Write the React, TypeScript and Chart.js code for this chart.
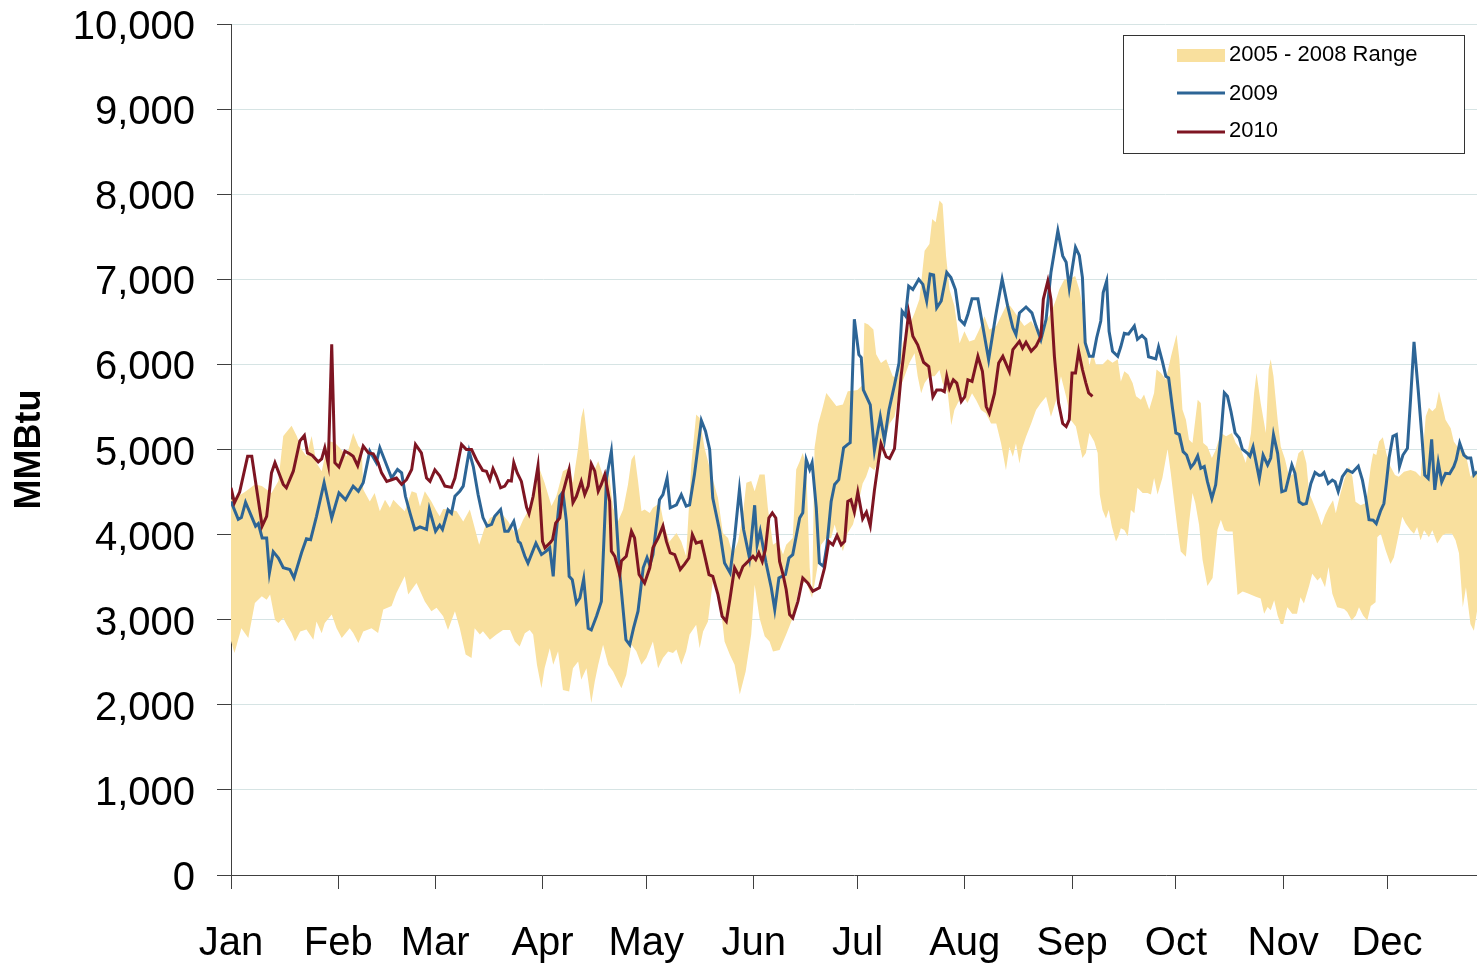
import React, { useEffect, useRef } from "react";
import { Chart, registerables } from "chart.js";

Chart.register(...registerables);

const FONT = "'Liberation Sans', Arial, sans-serif";

const monthLabels = ["Jan", "Feb", "Mar", "Apr", "May", "Jun", "Jul", "Aug", "Sep", "Oct", "Nov", "Dec"];
const monthStartDays = [0, 31, 59, 90, 120, 151, 181, 212, 243, 273, 304, 334];
const legendLabels = ["2005 - 2008 Range", "2009", "2010"];

// 2005 - 2008 range, upper edge
const rangeUpperDays = [
  0, 2, 4, 6.9, 8.9, 10.3, 11.7, 13.7, 15.1, 17.5, 19, 20.4, 21.8, 23.3, 24.7, 26.2, 28.1, 30, 31.4, 33.4,
  35.3, 36.8, 37.8, 38.2, 40.1, 41.5, 43, 44.5, 45.9, 46.9, 48.3, 50.2, 52.2, 53.6, 54.6, 56, 57.9, 59.4, 60.3, 61.3,
  63.2, 65.2, 67.1, 69, 70.4, 71.7, 73.3, 74.8, 76.7, 78.1, 80.1, 82, 83.4, 84.4, 85.8, 87.3, 88.7, 90.6, 92.6, 94,
  95.9, 97.7, 98.8, 100.3, 101.2, 101.9, 102.7, 103.6, 105.1, 106.1, 107.5, 109, 110.4, 111.8, 113.3, 114.7, 115.7, 116.6, 117.6, 118.6,
  119.5, 121, 121.9, 123.9, 125.3, 126.7, 128.7, 130.1, 131.5, 133, 134.4, 135.4, 136.8, 138.8, 140.7, 142.1, 143.6, 145, 146.5, 147.9,
  148.9, 150.3, 151.3, 152.7, 154.2, 155.1, 156.6, 158, 159.5, 160.4, 162.3, 163.3, 164.3, 165.2, 166.2, 167.2, 167.9, 168.6, 169.6, 170.8,
  172, 173.4, 174.9, 176.8, 178.2, 179.7, 181, 182.5, 183, 184.1, 185.6, 186.4, 187.8, 189.3, 191.2, 192.6, 194.1, 195.5, 197.5, 198.9,
  200.4, 201.8, 202.6, 203.6, 204.7, 205.6, 206.6, 207.6, 209, 210.5, 211.9, 213.3, 214.8, 216.2, 217.7, 219.1, 221.1, 223, 224.4, 225.9,
  227.8, 229.2, 231.2, 232.6, 234, 235.5, 236.9, 238.4, 239.3, 240.8, 242.2, 243.9, 245.1, 246, 247, 248, 248.9, 249.9, 251.8, 253.3,
  254.7, 256.2, 257.1, 258.1, 259.3, 260.5, 261.5, 262.9, 263.8, 265.3, 266.7, 267.4, 268.7, 270.1, 271.6, 273.2, 274, 274.9, 275.9, 276.8,
  277.8, 279.3, 280.2, 280.9, 282.1, 283.4, 284.5, 286, 287.5, 289.2, 290.3, 291.8, 293.2, 294.7, 295.6, 296.3, 297.5, 299, 299.8, 300.4,
  301.2, 302.4, 303.3, 304.5, 305.7, 307.1, 308.4, 309.7, 310.7, 311.5, 312.4, 313.9, 315.1, 316.1, 317.2, 318.4, 319.2, 320.3, 321.6, 323,
  324, 324.9, 326.4, 328, 329.3, 330, 330.9, 331.7, 332.8, 333.8, 335, 336.3, 337.4, 338.9, 340.8, 342.3, 343.7, 345.2, 346.1, 347.1,
  348.1, 349, 350, 350.9, 352.4, 353.3, 354.3, 355.3, 356.7, 358.1, 360,
];
const rangeUpperValues = [
  4410, 4450, 4500, 4590, 4570, 4530, 4490, 4630, 5160, 5280, 5160, 5000, 4920, 5160, 4840, 4745, 5100, 5080, 5020, 4920,
  5195, 5040, 5000, 4530, 4390, 4490, 4275, 4410, 4315, 4410, 4350, 4275, 4510, 4490, 4330, 4510, 4390, 4275, 4215, 4300,
  4295, 4275, 4155, 4295, 4080, 3880, 4080, 4195, 4235, 4255, 4155, 4020, 4080, 4175, 4275, 4490, 4825, 4610, 4335, 4450,
  4745, 4785, 4610, 5020, 5375, 5490, 5215, 4880, 4765, 4865, 4690, 4785, 4315, 4155, 4295, 4590, 4880, 4940, 4630, 4275,
  4295, 4255, 4315, 4370, 4080, 3920, 4020, 3920, 3745, 4825, 5410, 5370, 5020, 4705, 4430, 4020, 3960, 3765, 3920, 4235,
  4610, 4630, 4510, 4705, 4705, 4315, 3880, 3920, 3765, 3880, 3960, 4765, 4860, 4960, 4805, 3610, 3255, 5020, 5295, 5470,
  5665, 5590, 5510, 5530, 5685, 5690, 5700, 5760, 6490, 6470, 6410, 6120, 6015, 6060, 5860, 5840, 6250, 6410, 6605, 6765,
  7335, 7415, 7710, 7670, 7925, 7885, 7275, 6880, 6690, 6250, 6390, 6270, 6290, 6410, 6565, 6410, 6450, 6610, 6725, 6645,
  6530, 6450, 6510, 6410, 6410, 6510, 6605, 6765, 6880, 7000, 7000, 7040, 6880, 6685, 6330, 5980, 6140, 6000, 6000, 6060,
  6020, 6060, 5800, 5920, 5880, 5780, 5625, 5585, 5645, 5470, 5665, 5940, 5900, 5820, 6095, 6350, 6060, 5470, 5350, 5115,
  5075, 5585, 5545, 5075, 5035, 4900, 4995, 5195, 5155, 5195, 5075, 5000, 4840, 5195, 5665, 5900, 5545, 5195, 5940, 6060,
  5860, 5350, 5035, 4890, 4680, 4720, 4955, 5000, 4840, 4485, 4405, 4250, 4110, 4230, 4325, 4405, 4250, 4445, 4640, 4800,
  4680, 4385, 4345, 4375, 4800, 4955, 4935, 5095, 5145, 4955, 4800, 4700, 4680, 4740, 4760, 4740, 4680, 5390, 5490, 5450,
  5490, 5685, 5510, 5350, 5250, 5095, 5035, 4995, 4955, 4680, 4760,
];

// 2005 - 2008 range, lower edge
const rangeLowerDays = [
  0, 1, 3, 5, 6.9, 8.9, 10.3, 11.3, 12.7, 13.7, 15.1, 16.1, 17.5, 18.5, 20, 21.8, 23.8, 24.7, 26.2, 27.1,
  29.1, 30.5, 32, 34.3, 35.3, 36.8, 38.2, 40.6, 42.5, 44, 46.4, 47.8, 50.2, 51.2, 53.6, 56, 57.9, 59.4, 61.3, 62.7,
  64.7, 66.1, 67.8, 69.5, 70.4, 71.9, 72.8, 74.8, 76.7, 78.6, 80.6, 82, 83.4, 84.9, 86.3, 87.3, 88.4, 89.7, 90.6, 92.1,
  93.1, 94.5, 95.9, 97.7, 98.8, 100.3, 101.2, 102.7, 104.1, 105.1, 106.1, 107.5, 109, 110.4, 111.8, 112.8, 114.2, 115.7, 117.1, 118.6,
  120, 121.9, 123.4, 124.8, 126.3, 127.7, 128.7, 130.1, 131.5, 132.5, 134.4, 135.4, 136.4, 137.8, 139.2, 141.2, 142.6, 144.1, 145.5, 147,
  148.7, 150.3, 151.3, 152.7, 154.2, 155.6, 156.6, 158.5, 160.4, 162.3, 164.3, 166.2, 167.9, 168.9, 170.5, 172, 173.4, 174.4, 175.8, 176.8,
  178.2, 179.7, 181, 182.5, 183.5, 184.5, 185.9, 187.4, 188.8, 190.3, 191.7, 193.1, 194.6, 196, 197.5, 198.4, 199.4, 200.4, 201.8, 203.3,
  204.7, 205.6, 207.1, 208.1, 209, 210, 211.4, 212.8, 214.1, 215.3, 216.7, 218.1, 219.6, 221.1, 222.5, 223.9, 224.9, 225.9, 226.8, 227.8,
  228.7, 229.7, 231.2, 232.6, 234, 235.5, 236.9, 238.4, 239.8, 241.3, 242.7, 244.1, 246, 247, 248, 249.4, 250.4, 251, 251.8, 252.8,
  253.6, 254.5, 255.7, 256.4, 257.1, 258.1, 259.1, 260, 261, 261.9, 263.4, 264.8, 265.8, 266.7, 267.7, 269.1, 270.6, 271.5, 272.8, 273.5,
  274.4, 275.9, 276.8, 277.8, 278.6, 279.7, 280.7, 282.1, 283.6, 285, 286, 287, 287.9, 289.4, 290.8, 292.3, 293.7, 294.9, 296.1, 297.5,
  298.5, 299.5, 300.4, 301.4, 302.4, 303.3, 304, 305.2, 306.6, 308, 309, 310, 311.5, 312.4, 313.9, 314.8, 316.1, 317.1, 318.2, 319.6,
  321.6, 322.5, 323.8, 325, 325.9, 327.1, 328.3, 329.3, 330.7, 331.2, 332.2, 333.6, 335, 336, 337.4, 338.4, 339.4, 340.8, 341.8, 342.7,
  343.7, 344.7, 346.1, 347.1, 348.5, 350, 350.9, 352.8, 353.8, 354.8, 355.9, 356.8, 358.1, 359.1, 360,
];
const rangeLowerValues = [
  2750, 2610, 2900, 2785, 3195, 3275, 3235, 3295, 3000, 2960, 3020, 2940, 2845, 2745, 2860, 2885, 2765, 2980, 2840, 2960,
  3060, 2900, 2785, 2900, 2845, 2725, 2860, 2900, 2845, 3120, 3160, 3315, 3510, 3295, 3430, 3215, 3100, 3140, 3040, 2880,
  3100, 2900, 2590, 2550, 2900, 2825, 2865, 2765, 2825, 2880, 2880, 2745, 2685, 2840, 2880, 2825, 2470, 2195, 2430, 2665,
  2470, 2630, 2175, 2155, 2430, 2510, 2295, 2430, 2020, 2275, 2470, 2705, 2470, 2390, 2275, 2195, 2350, 2705, 2630, 2470,
  2550, 2745, 2430, 2550, 2625, 2610, 2650, 2470, 2630, 2825, 2940, 2665, 2860, 2980, 3450, 3255, 2745, 2590, 2470, 2120,
  2390, 2825, 3410, 3020, 2805, 2745, 2625, 2645, 2825, 3020, 3410, 3450, 3255, 3490, 3880, 3960, 3960, 4120, 3920, 3805,
  4020, 4120, 4320, 4600, 4680, 4800, 4755, 4915, 5070, 5305, 5385, 5700, 5860, 6015, 6130, 5860, 5660, 5780, 5860, 5860,
  5935, 5780, 5660, 5285, 5465, 5545, 5640, 5545, 5660, 5580, 5465, 5425, 5305, 5305, 5070, 4755, 5030, 4915, 5070, 4835,
  5030, 5150, 5305, 5465, 5545, 5620, 5385, 5580, 5860, 5620, 5345, 5270, 4900, 4960, 5195, 5095, 4960, 4470, 4290, 4190,
  4290, 4095, 3920, 3980, 4075, 4055, 3980, 4290, 4250, 4550, 4490, 4490, 4470, 4665, 4470, 4665, 5005, 4730, 4290, 4055,
  3800, 3740, 4135, 4490, 4370, 4115, 3705, 3395, 3490, 4055, 4175, 4055, 4035, 4035, 3290, 3330, 3310, 3290, 3270, 3250,
  3070, 3150, 3110, 3230, 3050, 2950, 2950, 3145, 3070, 3070, 3265, 3190, 3400, 3540, 3460, 3500, 3380, 3620, 3305, 3145,
  3125, 3090, 2990, 3050, 3145, 3050, 2990, 3160, 3205, 3970, 4010, 3815, 3655, 3735, 4010, 4210, 4130, 4050, 4010, 4090,
  3935, 4050, 3970, 4050, 3895, 3990, 4010, 4010, 3935, 3780, 3145, 3380, 2950, 2870, 3100,
];

// 2009 daily values
const days2009 = [
  0, 2.1, 3, 4.2, 5.5, 7.1, 7.9, 9, 10.3, 11.1, 12.2, 13.7, 15.1, 17, 18.2, 20.4, 21.8, 23, 24.7, 26.9,
  29.1, 31.2, 33.1, 35.3, 36.8, 38.2, 40.1, 42, 43, 44.5, 46.4, 48.1, 49.3, 50.4, 51.7, 53.1, 54.6, 56.5, 57.3, 59.1,
  60.3, 61.1, 62.7, 63.7, 64.7, 66.1, 67.1, 68.8, 70, 71.4, 72.8, 74, 75.3, 76.2, 77.9, 79.1, 80.1, 81.7, 83, 83.6,
  84.9, 85.8, 88.1, 89.7, 90.9, 92.1, 93.1, 93.8, 95, 95.9, 96.9, 97.7, 98.6, 99.8, 100.8, 101.9, 103.2, 104.1, 105.6, 107,
  108.5, 109.9, 110.9, 112.3, 114.1, 115.2, 116.3, 117.6, 119.1, 120.2, 121, 121.9, 123.8, 124.8, 126, 126.9, 128.7, 130.1, 131.5, 132.5,
  133.9, 135.9, 137.1, 138.3, 139.2, 141.2, 142.6, 144.2, 145.5, 146.9, 148.1, 149.8, 151.3, 152, 152.9, 154.6, 156.1, 157.1, 158.3, 160.2,
  161.2, 162.3, 164.3, 165.2, 166.2, 167.2, 167.9, 169.1, 170, 171.2, 172.2, 173.4, 174.4, 175.6, 177, 178.2, 178.9, 180.1, 181.4, 182.1,
  182.7, 184.7, 185.9, 187.6, 188.8, 190.1, 191.7, 193, 193.9, 194.9, 195.8, 197, 198.7, 199.9, 201, 202, 203, 203.9, 205.2, 206.8,
  208, 209.3, 210.5, 211.9, 212.9, 214.1, 215.8, 217.2, 218.9, 220.9, 222.8, 224.4, 225.9, 226.8, 227.8, 229.7, 231.4, 232.6, 234, 235.5,
  236.9, 238.9, 240.3, 241.3, 242.2, 244, 245.1, 246, 246.8, 248, 249.1, 250.1, 251.3, 252, 253, 253.7, 254.7, 256.2, 257.1, 258.1,
  259.3, 261, 261.9, 263.2, 264.3, 265.1, 267.2, 268, 269.1, 270.1, 270.9, 272, 273, 274, 275.1, 276.1, 277.3, 278.3, 279.3, 280.2,
  281.2, 282.1, 283.4, 284.5, 286, 287, 287.9, 288.9, 290.1, 291.3, 292.2, 293.7, 294.4, 295.3, 297.1, 298.2, 299.5, 300.4, 301.2, 302.4,
  303.6, 304.7, 306.5, 307.4, 308.6, 309.7, 310.7, 312, 313.2, 314.4, 315.1, 315.8, 317, 318.2, 319, 319.9, 321.1, 322.5, 324, 325.7,
  326.9, 327.8, 328.8, 330, 330.9, 332.2, 333.1, 333.8, 334.6, 335.7, 336.7, 337.6, 338.6, 339.9, 340.8, 341.8, 343, 344, 344.9, 345.9,
  346.9, 347.8, 348.8, 349.8, 350.9, 352.1, 353.3, 354, 355, 356.2, 357.2, 358.2, 359.1, 360,
];
const values2009 = [
  4390, 4180, 4200, 4380, 4255, 4100, 4130, 3960, 3960, 3550, 3800, 3725, 3610, 3590, 3490, 3790, 3950, 3940, 4215, 4610,
  4195, 4490, 4410, 4570, 4510, 4610, 4980, 4845, 5020, 4865, 4665, 4765, 4725, 4450, 4255, 4060, 4090, 4060, 4300, 4040,
  4110, 4060, 4290, 4250, 4450, 4510, 4570, 4980, 4800, 4470, 4200, 4100, 4120, 4215, 4295, 4040, 4040, 4155, 3920, 3900,
  3745, 3665, 3900, 3765, 3800, 3845, 3510, 3960, 4450, 4500, 4155, 3510, 3470, 3195, 3255, 3480, 2900, 2880, 3040, 3215,
  4665, 4980, 4450, 3550, 2765, 2705, 2900, 3100, 3610, 3730, 3640, 3765, 4410, 4470, 4665, 4315, 4350, 4470, 4335, 4350,
  4705, 5340, 5215, 5000, 4430, 4040, 3665, 3550, 3960, 4530, 4060, 3725, 4345, 3880, 4040, 3665, 3375, 3120, 3490, 3530,
  3725, 3765, 4195, 4255, 4880, 4765, 4845, 4315, 3665, 3625, 3880, 4390, 4590, 4645, 5020, 5060, 5080, 6530, 6115, 6080,
  5700, 5525, 4990, 5385, 5110, 5465, 5760, 6015, 6625, 6570, 6920, 6880, 7000, 6940, 6745, 7060, 7050, 6665, 6745, 7080,
  7020, 6880, 6530, 6470, 6590, 6770, 6770, 6450, 6055, 6565, 7000, 6685, 6430, 6350, 6605, 6675, 6605, 6450, 6290, 6530,
  7080, 7570, 7275, 7200, 6900, 7375, 7280, 7020, 6255, 6095, 6095, 6310, 6510, 6845, 6980, 6390, 6155, 6095, 6210, 6365,
  6355, 6450, 6295, 6340, 6295, 6090, 6065, 6205, 6035, 5860, 5840, 5490, 5195, 5175, 4975, 4935, 4790, 4840, 4925, 4780,
  4800, 4625, 4425, 4585, 5155, 5665, 5625, 5450, 5195, 5135, 5005, 4955, 4920, 5030, 4660, 4935, 4820, 4900, 5175, 4955,
  4505, 4520, 4820, 4720, 4385, 4355, 4365, 4600, 4730, 4695, 4700, 4730, 4600, 4640, 4620, 4505, 4680, 4760, 4730, 4805,
  4640, 4445, 4175, 4170, 4130, 4285, 4365, 4600, 4900, 5155, 5175, 4800, 4935, 5015, 5585, 6265, 5705, 5195, 4700, 4660,
  5120, 4525, 4845, 4620, 4720, 4715, 4800, 4880, 5075, 4935, 4900, 4900, 4700, 4740,
];

// 2010 daily values (through early September)
const days2010 = [
  0, 1, 2.5, 4.8, 6, 9, 10.3, 11.7, 12.7, 15.1, 16, 18, 19.9, 21.2, 22.1, 23.5, 25.2, 26.2, 27.1, 28.1,
  29.1, 30, 31.2, 32.9, 34.3, 35.3, 36.6, 38.2, 39.7, 41.1, 42.5, 43.5, 45, 46.4, 47.8, 49.3, 50.7, 52.2, 53.3, 55,
  56.5, 57.5, 58.9, 60.3, 61.8, 63.7, 64.7, 66.6, 68, 69.5, 70.9, 72.7, 73.8, 74.8, 75.7, 76.7, 77.9, 79.1, 80.1, 81,
  81.7, 82.7, 83.9, 85.4, 86.1, 87.3, 88.7, 90, 90.7, 92.1, 92.9, 93.8, 95, 95.9, 97.7, 98.8, 99.8, 101.2, 102.2, 103.2,
  104.1, 105.1, 106.1, 107, 108, 109.4, 109.9, 110.9, 112.3, 112.8, 114.2, 115.7, 116.6, 117.9, 119.5, 121, 121.9, 123.4, 124.8, 125.8,
  126.9, 128.2, 129.8, 131, 132.3, 133.3, 134.4, 135.9, 136.8, 138.1, 139.2, 140.7, 141.9, 143.1, 144.2, 145.5, 146.8, 147.9, 149.4, 150.8,
  151.6, 152.5, 153.5, 154.4, 155.4, 156.4, 157.4, 158.5, 159.5, 160.4, 161.4, 162.3, 163.8, 165.2, 166.7, 168.1, 170, 171.5, 172.7, 173.9,
  175.1, 176.3, 177.3, 178.2, 179.1, 180.1, 181.1, 182.5, 183.6, 184.7, 185.9, 187.8, 189.3, 190.3, 191.7, 193.6, 195.8, 197, 198.4, 200.1,
  201.6, 202.8, 203.9, 205.2, 206.1, 206.8, 207.6, 208.7, 209.7, 211, 212, 212.9, 214.1, 215.8, 217.1, 218.2, 219.1, 220.6, 221.8, 223,
  224.9, 225.9, 227.8, 228.7, 229.7, 231.2, 232.6, 234, 234.7, 236, 236.9, 237.9, 239.1, 240.3, 241.3, 242.2, 243, 244, 244.9, 246,
  247, 247.8, 248.9,
];
const values2010 = [
  4550, 4375, 4500, 4920, 4920, 4100, 4215, 4725, 4845, 4590, 4550, 4745, 5100, 5165, 4960, 4930, 4855, 4890, 5020, 4825,
  6235, 4845, 4795, 4980, 4950, 4920, 4810, 5040, 4960, 4950, 4845, 4725, 4625, 4645, 4665, 4590, 4645, 4765, 5060, 4960,
  4665, 4625, 4760, 4690, 4570, 4555, 4665, 5060, 5000, 5000, 4880, 4755, 4745, 4645, 4775, 4685, 4550, 4570, 4635, 4630,
  4845, 4725, 4625, 4320, 4245, 4450, 4805, 3920, 3845, 3900, 3940, 4135, 4195, 4490, 4765, 4375, 4450, 4625, 4470, 4570,
  4830, 4745, 4510, 4590, 4705, 4390, 3805, 3745, 3530, 3690, 3745, 4040, 3960, 3530, 3430, 3610, 3845, 3960, 4100, 3920,
  3785, 3765, 3590, 3650, 3725, 4000, 3900, 3920, 3765, 3530, 3510, 3295, 3040, 2980, 3255, 3610, 3510, 3625, 3685, 3745,
  3705, 3785, 3685, 3825, 4195, 4255, 4195, 3685, 3530, 3355, 3060, 3020, 3215, 3490, 3430, 3335, 3375, 3610, 3920, 3880,
  3990, 3880, 3920, 4390, 4410, 4265, 4500, 4185, 4265, 4105, 4520, 5070, 4915, 4895, 5010, 5860, 6605, 6330, 6230, 6025,
  5975, 5620, 5700, 5700, 5680, 5860, 5720, 5820, 5780, 5565, 5620, 5820, 5800, 6095, 5920, 5505, 5425, 5660, 6015, 6095,
  5915, 6175, 6270, 6190, 6260, 6155, 6215, 6330, 6765, 6980, 6765, 6095, 5545, 5305, 5270, 5350, 5900, 5900, 6155, 5940,
  5780, 5665, 5625,
];

const yMin = 0;
const yMax = 10000;
const yStep = 1000;
const xMin = 0;
const xMax = 360;

const COLORS = {
  band: "#F9E09E",
  y2009: "#2D6596",
  y2010: "#7E1522",
  grid: "#D6E4E4",
  axis: "#404040",
};

const toPoints = (xs: number[], ys: number[]) => xs.map((x, i) => ({ x, y: ys[i] }));
const fmt = (v: number) => String(Math.round(v)).replace(/\B(?=(\d{3})+(?!\d))/g, ",");

const legendPlugin = {
  id: "boxLegend",
  afterDraw(chart: any) {
    const { ctx, chartArea } = chart;
    const w = 341;
    const h = 118;
    const left = Math.round(chartArea.right - 354);
    const top = Math.round(chartArea.top + 11);
    ctx.save();
    ctx.fillStyle = "#ffffff";
    ctx.fillRect(left, top, w, h);
    ctx.strokeStyle = "#333333";
    ctx.lineWidth = 1;
    ctx.strokeRect(left + 0.5, top + 0.5, w, h);

    const swX = left + 54;
    const swW = 48;
    const textX = left + 106;
    ctx.fillStyle = COLORS.band;
    ctx.fillRect(swX, top + 14, swW, 13);
    const lineYs = [top + 58, top + 97];
    const lineColors = [COLORS.y2009, COLORS.y2010];
    lineYs.forEach((y, i) => {
      ctx.strokeStyle = lineColors[i];
      ctx.lineWidth = 3;
      ctx.beginPath();
      ctx.moveTo(swX, y);
      ctx.lineTo(swX + swW, y);
      ctx.stroke();
    });
    ctx.fillStyle = "#000000";
    ctx.font = `22px ${FONT}`;
    ctx.textBaseline = "alphabetic";
    ctx.textAlign = "left";
    const baselines = [top + 26, top + 65, top + 102];
    legendLabels.forEach((t, i) => ctx.fillText(t, textX, baselines[i]));
    ctx.restore();
  },
};

export default function App() {
  const canvasRef = useRef<HTMLCanvasElement | null>(null);

  useEffect(() => {
    if (!canvasRef.current) return;
    const chart = new Chart(canvasRef.current, {
      type: "line",
      data: {
        datasets: [
          {
            label: legendLabels[2],
            data: toPoints(days2010, values2010),
            borderColor: COLORS.y2010,
            borderWidth: 3,
            pointRadius: 0,
            fill: false,
            tension: 0,
          },
          {
            label: legendLabels[1],
            data: toPoints(days2009, values2009),
            borderColor: COLORS.y2009,
            borderWidth: 3,
            pointRadius: 0,
            fill: false,
            tension: 0,
          },
          {
            label: legendLabels[0],
            data: toPoints(rangeUpperDays, rangeUpperValues),
            borderWidth: 0,
            borderColor: "rgba(0,0,0,0)",
            backgroundColor: COLORS.band,
            pointRadius: 0,
            fill: "+1",
            tension: 0,
          },
          {
            label: "range low",
            data: toPoints(rangeLowerDays, rangeLowerValues),
            borderWidth: 0,
            borderColor: "rgba(0,0,0,0)",
            pointRadius: 0,
            fill: false,
            tension: 0,
          },
        ],
      },
      options: {
        animation: false,
        responsive: true,
        maintainAspectRatio: false,
        layout: { padding: { top: 24, right: 0, left: 0, bottom: 0 } },
        plugins: {
          legend: { display: false },
          tooltip: { enabled: false },
        },
        scales: {
          x: {
            type: "linear",
            min: xMin,
            max: xMax,
            afterBuildTicks: (scale: any) => {
              scale.ticks = monthStartDays.map((v) => ({ value: v }));
            },
            afterFit: (scale: any) => {
              scale.height = 89;
            },
            ticks: {
              autoSkip: false,
              maxRotation: 0,
              minRotation: 0,
              padding: 31,
              color: "#000000",
              font: { family: FONT, size: 40 },
              callback: (v: any) => {
                const i = monthStartDays.indexOf(Number(v));
                return i >= 0 ? monthLabels[i] : "";
              },
            },
            grid: {
              drawOnChartArea: false,
              tickLength: 14,
              tickColor: COLORS.axis,
              tickWidth: 1,
            },
            border: { color: COLORS.axis, width: 1 },
          },
          y: {
            min: yMin,
            max: yMax,
            afterFit: (scale: any) => {
              scale.width = 231;
              scale.paddingTop = 0;
              scale.paddingBottom = 0;
            },
            ticks: {
              stepSize: yStep,
              padding: 22,
              labelOffset: 4,
              color: "#000000",
              font: { family: FONT, size: 40 },
              callback: (v: any) => fmt(Number(v)),
            },
            grid: {
              color: (c: any) => (c.tick && c.tick.value === 0 ? "rgba(0,0,0,0)" : COLORS.grid),
              tickColor: COLORS.axis,
              tickLength: 14,
              lineWidth: 1,
            },
            border: { color: COLORS.axis, width: 1 },
            title: {
              display: true,
              text: "MMBtu",
              color: "#000000",
              font: { family: FONT, size: 36, weight: "bold" },
              padding: { top: 8, bottom: 0 },
            },
          },
        },
      } as any,
      plugins: [legendPlugin],
    });
    return () => chart.destroy();
  }, []);

  return (
    <div style={{ position: "absolute", left: 0, top: 0, width: 1477, height: 964 }}>
      <canvas ref={canvasRef} />
    </div>
  );
}
